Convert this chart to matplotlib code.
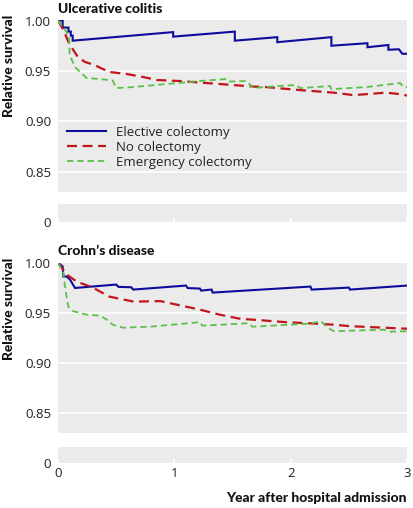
import matplotlib
matplotlib.use("Agg")
import matplotlib.pyplot as plt
from matplotlib import font_manager

# ---------------- data ----------------
uc_elective_x = [0, 0.04, 0.04, 0.09, 0.09, 0.11, 0.11, 0.126, 0.126, 0.99, 0.99, 1.52, 1.52, 1.885, 1.885,
                 2.35, 2.35, 2.66, 2.66, 2.84, 2.84, 2.93, 2.96, 3.0]
uc_elective_y = [1.000, 1.000, 0.993, 0.993, 0.989, 0.989, 0.985, 0.985, 0.980, 0.9885, 0.984, 0.989, 0.980, 0.9835, 0.9785,
                 0.9835, 0.975, 0.9775, 0.9735, 0.9757, 0.971, 0.9715, 0.967, 0.967]
uc_none_x = [0, 0.046, 0.088, 0.13, 0.17, 0.23, 0.31, 0.44, 0.59, 0.73, 0.85, 1.05, 1.22, 1.51, 1.68, 1.79,
             2.08, 2.37, 2.54, 2.82, 2.94, 3.0]
uc_none_y = [1.000, 0.991, 0.979, 0.971, 0.964, 0.959, 0.956, 0.949, 0.947, 0.944, 0.941, 0.940, 0.9385, 0.936,
             0.9345, 0.934, 0.931, 0.9285, 0.926, 0.9285, 0.927, 0.9256]
uc_emerg_x = [0, 0.046, 0.095, 0.10, 0.145, 0.245, 0.36, 0.47, 0.50, 0.64, 0.93, 1.22, 1.45, 1.47, 1.62, 1.68,
              1.88, 2.05, 2.08, 2.34, 2.35, 2.65, 2.94, 2.97, 3.0]
uc_emerg_y = [1.000, 0.993, 0.985, 0.966, 0.954, 0.943, 0.942, 0.9405, 0.933, 0.934, 0.937, 0.940, 0.942, 0.9395,
              0.940, 0.933, 0.935, 0.936, 0.933, 0.935, 0.932, 0.934, 0.938, 0.934, 0.934]

cd_elective_x = [0, 0.04, 0.046, 0.075, 0.103, 0.146, 0.50, 0.52, 0.63, 0.646, 1.10, 1.115, 1.22, 1.23, 1.32,
                 1.33, 2.17, 2.18, 2.50, 2.51, 3.0]
cd_elective_y = [1.000, 0.996, 0.986, 0.986, 0.983, 0.9746, 0.978, 0.9757, 0.9753, 0.973, 0.977, 0.9745, 0.974,
                 0.972, 0.973, 0.970, 0.976, 0.973, 0.975, 0.973, 0.977]
cd_none_x = [0, 0.075, 0.16, 0.30, 0.44, 0.65, 0.88, 1.02, 1.22, 1.39, 1.56, 1.79, 1.96, 2.22, 2.37, 2.51,
             2.80, 3.0]
cd_none_y = [1.000, 0.988, 0.981, 0.975, 0.966, 0.961, 0.9615, 0.958, 0.953, 0.948, 0.944, 0.942, 0.9405,
             0.939, 0.938, 0.9365, 0.935, 0.934]
cd_emerg_x = [0, 0.046, 0.06, 0.088, 0.13, 0.245, 0.36, 0.42, 0.47, 0.56, 0.79, 1.22, 1.24, 1.64, 1.67, 2.16,
              2.26, 2.32, 2.37, 2.80, 2.84, 3.0]
cd_emerg_y = [1.000, 0.9895, 0.976, 0.956, 0.9515, 0.948, 0.947, 0.943, 0.938, 0.935, 0.936, 0.9405, 0.937,
              0.9395, 0.936, 0.939, 0.9415, 0.935, 0.9315, 0.933, 0.931, 0.9315]

panel_titles = ["Ulcerative colitis", "Crohn\u2019s disease"]
series_names = ["Elective colectomy", "No colectomy", "Emergency colectomy"]
y_ticks = [0.85, 0.90, 0.95, 1.00]
x_ticks = [0, 1, 2, 3]

# ---------------- style ----------------
names = {f.name for f in font_manager.fontManager.ttflist}
body_font = "Open Sans" if "Open Sans" in names else "DejaVu Sans"
bold_font = "Lato" if "Lato" in names else body_font
BOLD_W = "black"
BG = "#ebebeb"
C_BLUE = "#0c0c9c"
C_RED = "#c0151b"
C_GREEN = "#5cbf4a"

W, H = 414, 508
fig = plt.figure(figsize=(W / 100, H / 100), dpi=100)

def ax_px(left, top, right, bottom):
    return fig.add_axes([left / W, 1 - bottom / H, (right - left) / W, (bottom - top) / H])

panels = [
    dict(main=(58, 20.5, 407, 192), small=(58, 204, 407, 222), title_y=9,
         data=[(uc_elective_x, uc_elective_y), (uc_none_x, uc_none_y), (uc_emerg_x, uc_emerg_y)],
         ylab_y=66, legend=True, xlabels=False),
    dict(main=(58, 262.5, 407, 433), small=(58, 447, 407, 463), title_y=251,
         data=[(cd_elective_x, cd_elective_y), (cd_none_x, cd_none_y), (cd_emerg_x, cd_emerg_y)],
         ylab_y=309, legend=False, xlabels=True),
]

styles = [
    dict(color=C_BLUE, lw=1.5, ls="-"),
    dict(color=C_RED, lw=1.6, ls=(0, (4.5, 2.5))),
    dict(color=C_GREEN, lw=1.3, ls=(0, (3.5, 2.2))),
]

for p, title in zip(panels, panel_titles):
    ax = ax_px(*p["main"])
    ax.set_facecolor(BG)
    for s in ax.spines.values():
        s.set_visible(False)
    ax.set_xlim(0, 3)
    ax.set_ylim(0.83, 1.0)
    ax.set_yticks(y_ticks)
    ax.set_yticklabels([f"{v:.2f}" for v in y_ticks], fontfamily=body_font, fontsize=9.5, color="#222222")
    ax.set_xticks([])
    ax.tick_params(axis="y", length=0, pad=5)
    for v in y_ticks[:-1]:
        ax.axhline(v, color="white", lw=1.2, zorder=1)
    lines = []
    for (xs, ys), st, nm in zip(p["data"], styles, series_names):
        ln, = ax.plot(xs, ys, color=st["color"], lw=st["lw"], linestyle=st["ls"], label=nm, zorder=3,
                      solid_joinstyle="miter")
        lines.append(ln)
    if p["legend"]:
        leg = ax.legend(handles=lines, loc="upper left", bbox_to_anchor=(0.01, 0.415), frameon=False,
                        prop=dict(family=body_font, size=9.5), handlelength=3.0, handletextpad=0.7,
                        labelspacing=0.15, borderaxespad=0)
        for t in leg.get_texts():
            t.set_color("#222222")

    fig.text(58 / W, 1 - p["title_y"] / H, title, fontfamily=bold_font, fontweight=BOLD_W, fontsize=10,
             va="center", ha="left", color="#111111")
    fig.text(9 / W, 1 - p["ylab_y"] / H, "Relative survival", fontfamily=bold_font, fontweight=BOLD_W,
             fontsize=10, rotation=90, va="center", ha="center", color="#111111")

    axs = ax_px(*p["small"])
    axs.set_facecolor(BG)
    for s in axs.spines.values():
        s.set_visible(False)
    axs.set_xlim(0, 3)
    axs.set_ylim(0, 1)
    axs.set_yticks([0])
    axs.set_yticklabels(["0"], fontfamily=body_font, fontsize=9.5, color="#222222")
    axs.tick_params(axis="y", length=0, pad=5)
    axs.set_xticks(x_ticks)
    axs.tick_params(axis="x", direction="in", length=3, width=1.2, color="white", pad=3)
    if p["xlabels"]:
        axs.set_xticklabels([str(v) for v in x_ticks], fontfamily=body_font, fontsize=9.5, color="#222222")
    else:
        axs.set_xticklabels([])

fig.text(407 / W, 1 - 498 / H, "Year after hospital admission", fontfamily=bold_font, fontweight=BOLD_W,
         fontsize=10, va="center", ha="right", color="#111111")

fig.savefig("out.png", dpi=100, facecolor="white")
